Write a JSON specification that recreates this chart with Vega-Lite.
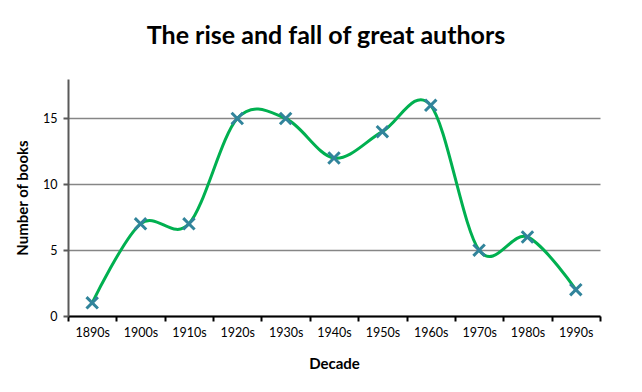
{
  "$schema": "https://vega.github.io/schema/vega-lite/v6.json",
  "autosize": "none",
  "width": 532,
  "height": 237,
  "padding": {"left": 68, "top": 79, "right": 42, "bottom": 76},
  "background": "white",
  "title": {
    "text": "The rise and fall of great authors",
    "font": "Lato",
    "fontSize": 25,
    "fontWeight": "bold",
    "color": "black",
    "anchor": "middle",
    "dx": -8,
    "offset": 30
  },
  "config": {
    "view": {"stroke": null},
    "font": "Lato"
  },
  "data": {
    "values": [
      {"decade": "1890s", "books": 1},
      {"decade": "1900s", "books": 7},
      {"decade": "1910s", "books": 7},
      {"decade": "1920s", "books": 15},
      {"decade": "1930s", "books": 15},
      {"decade": "1940s", "books": 12},
      {"decade": "1950s", "books": 14},
      {"decade": "1960s", "books": 16},
      {"decade": "1970s", "books": 5},
      {"decade": "1980s", "books": 6},
      {"decade": "1990s", "books": 2}
    ]
  },
  "encoding": {
    "x": {
      "field": "decade",
      "type": "ordinal",
      "scale": {"type": "band", "paddingInner": 0, "paddingOuter": 0},
      "axis": {
        "title": "Decade",
        "titleFont": "Lato",
        "titleFontSize": 15,
        "titleFontWeight": "bold",
        "titleColor": "black",
        "titlePadding": 18,
        "titleAnchor": "middle",
        "labelAngle": 0,
        "labelFont": "Lato",
        "labelFontSize": 12.5,
        "labelColor": "black",
        "labelPadding": 5,
        "tickBand": "extent",
        "tickSize": 5,
        "tickColor": "black",
        "tickWidth": 2,
        "domainColor": "black",
        "domainWidth": 2,
        "grid": false
      }
    },
    "y": {
      "field": "books",
      "type": "quantitative",
      "scale": {"domain": [0, 18], "nice": false},
      "axis": {
        "title": "Number of books",
        "titleFont": "Lato",
        "titleFontSize": 15,
        "titleFontWeight": "bold",
        "titleColor": "black",
        "titlePadding": 12,
        "values": [0, 5, 10, 15],
        "labelFont": "Lato",
        "labelFontSize": 12.5,
        "labelColor": "black",
        "labelPadding": 6,
        "tickSize": 5,
        "tickColor": "#595959",
        "tickWidth": 2,
        "domainColor": "#595959",
        "domainWidth": 2,
        "grid": true,
        "gridColor": "#868686",
        "gridWidth": 1.5
      }
    }
  },
  "layer": [
    {
      "mark": {"type": "line", "interpolate": "cardinal", "color": "#00B050", "strokeWidth": 3}
    },
    {
      "mark": {"type": "point", "shape": "M-1,-1L1,1M-1,1L1,-1", "filled": false, "stroke": "#31849B", "strokeWidth": 3, "size": 130, "opacity": 1}
    }
  ]
}
